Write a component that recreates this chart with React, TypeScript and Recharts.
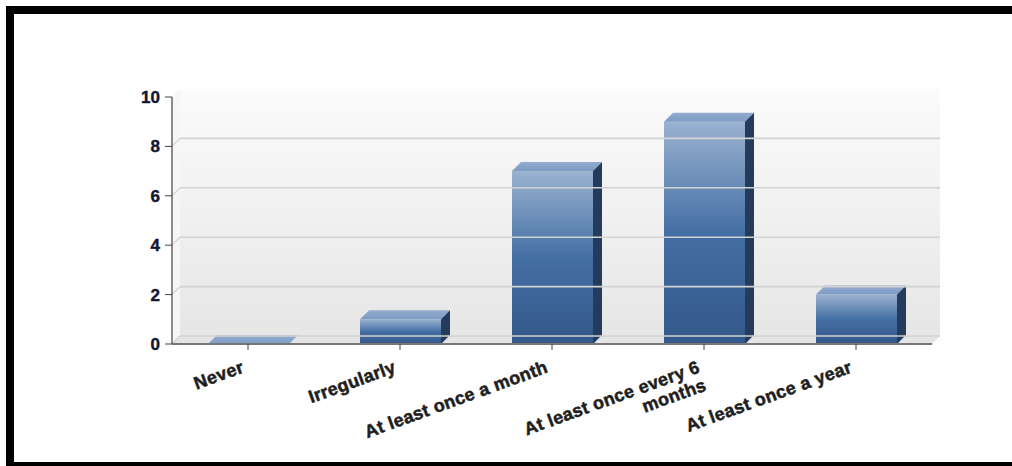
import React from 'react';
import { BarChart, Bar, XAxis, YAxis, ReferenceArea, ReferenceLine } from 'recharts';

const categories = [
  'Never',
  'Irregularly',
  'At least once a month',
  'At least once every 6 months',
  'At least once a year',
];
const counts = [0, 1, 7, 9, 2];
const yTicks = [0, 2, 4, 6, 8, 10];
const gridValues = [0, 2, 4, 6, 8];

const data = categories.map((name, i) => ({ name, count: counts[i] }));

const FONT = '"Liberation Sans", Arial, sans-serif';
const WALL_DEPTH = 8;
const BAR_DEPTH = 9;

// break long category names onto several lines
const wrapLabel = (text: string, maxChars: number) => {
  const words = text.split(' ');
  const lines: string[] = [];
  let current = '';
  words.forEach((w) => {
    const next = current ? `${current} ${w}` : w;
    if (next.length > maxChars && current) {
      lines.push(current);
      current = w;
    } else {
      current = next;
    }
  });
  if (current) lines.push(current);
  return lines;
};

const XTick = ({ x, y, payload }: any) => {
  const lines = wrapLabel(String(payload.value), 22);
  const ax = x - 3;
  const ay = y + 20;
  return (
    <text
      x={ax}
      y={ay}
      transform={`rotate(-20, ${ax}, ${ay})`}
      textAnchor="end"
      fontSize={18}
      fontWeight="bold"
      fontFamily={FONT}
      letterSpacing={0.3}
      fill="#1e1e1e"
      stroke="#1e1e1e"
      strokeWidth={0.5}
    >
      {lines.map((l, i) => (
        <tspan key={i} x={ax} dy={i === 0 ? 0 : 19}>
          {l}
        </tspan>
      ))}
    </text>
  );
};

// back wall, side wall and floor of the 3D plot box
const Walls = (p: any) => {
  const { x, y, width: w, height: h } = p;
  const D = WALL_DEPTH;
  return (
    <g>
      <polygon
        points={`${x},${y + h} ${x + D},${y + h - D} ${x + D},${y - D} ${x},${y}`}
        fill="#f6f6f6"
      />
      <rect x={x + D} y={y - D} width={w} height={h} fill="url(#wallGrad)" />
      <polygon
        points={`${x},${y + h} ${x + w},${y + h} ${x + w + D},${y + h - D} ${x + D},${y + h - D}`}
        fill="#e4e4e4"
      />
    </g>
  );
};

const GridLine = (p: any) => {
  const { x1, y1, x2, y2 } = p;
  const D = WALL_DEPTH;
  return (
    <g>
      <line x1={x1} y1={y1} x2={x1 + D} y2={y1 - D} stroke="#d2d2d2" strokeWidth={1.2} />
      <line x1={x1 + D} y1={y1 - D} x2={x2 + D} y2={y2 - D} stroke="#d2d2d2" strokeWidth={1.6} />
    </g>
  );
};

const Bar3D = (p: any) => {
  const { x, y, width, height } = p;
  const D = BAR_DEPTH;
  return (
    <g>
      <rect x={x} y={y} width={width} height={height} fill="url(#barFront)" />
      <polygon
        points={`${x},${y} ${x + D},${y - D} ${x + width + D},${y - D} ${x + width},${y}`}
        fill="url(#barTop)"
      />
      <polygon
        points={`${x + width},${y} ${x + width + D},${y - D} ${x + width + D},${y + height - D} ${x + width},${y + height}`}
        fill="#243b5c"
      />
    </g>
  );
};

export default function App() {
  return (
    <div style={{ position: 'absolute', left: 0, top: 0, width: 1012, height: 466, background: '#fff' }}>
      <BarChart
        width={1012}
        height={466}
        data={data}
        margin={{ top: 97, right: 80, bottom: 92, left: 112 }}
      >
        <defs>
          <linearGradient id="wallGrad" x1="0" y1="0" x2="0" y2="1">
            <stop offset="0%" stopColor="#fbfbfb" />
            <stop offset="100%" stopColor="#e6e6e6" />
          </linearGradient>
          <linearGradient id="barFront" x1="0" y1="0" x2="0" y2="1">
            <stop offset="0%" stopColor="#9bb2d0" />
            <stop offset="50%" stopColor="#446fa4" />
            <stop offset="100%" stopColor="#34588a" />
          </linearGradient>
          <linearGradient id="barTop" x1="0" y1="1" x2="0" y2="0">
            <stop offset="0%" stopColor="#7c9bc4" />
            <stop offset="100%" stopColor="#93acce" />
          </linearGradient>
        </defs>
        <ReferenceArea y1={0} y2={10} shape={Walls} />
        {gridValues.map((v) => (
          <ReferenceLine key={v} y={v} shape={GridLine} />
        ))}
        <XAxis
          dataKey="name"
          interval={0}
          tickSize={6}
          tickLine={{ stroke: '#444' }}
          axisLine={{ stroke: '#777', strokeWidth: 2 }}
          tick={<XTick />}
        />
        <YAxis
          width={60}
          domain={[0, 10]}
          ticks={yTicks}
          tickSize={7}
          tickMargin={5}
          tickLine={{ stroke: '#444' }}
          axisLine={{ stroke: '#666', strokeWidth: 1.5 }}
          tick={{
            fontSize: 17,
            fontWeight: 'bold',
            fill: '#151530',
            stroke: '#151530',
            strokeWidth: 0.4,
            fontFamily: FONT,
          }}
        />
        <Bar dataKey="count" barSize={81} shape={Bar3D} isAnimationActive={false} />
      </BarChart>
      <div
        style={{
          position: 'absolute',
          left: 6,
          top: 6,
          width: 1006,
          height: 460,
          boxSizing: 'border-box',
          borderTop: '8px solid #000',
          borderLeft: '8px solid #000',
          borderBottom: '4px solid #000',
          pointerEvents: 'none',
        }}
      />
    </div>
  );
}
